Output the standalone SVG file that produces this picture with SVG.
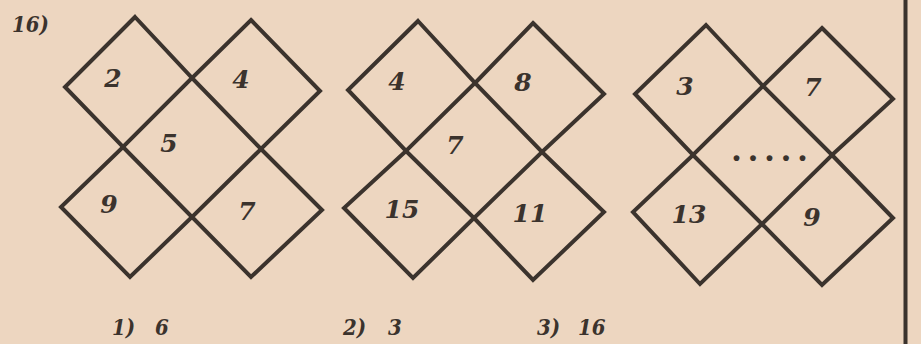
<svg xmlns="http://www.w3.org/2000/svg" width="921" height="344" viewBox="0 0 921 344">
<style>
.bg{fill:#edd6c0}
.d{fill:none;stroke:#3b332d;stroke-width:4;stroke-linejoin:miter}
.t{font-family:"DejaVu Serif","Liberation Serif",serif;font-weight:bold;font-style:italic;fill:#3b332d;font-size:25px;text-anchor:middle}
.s{font-family:"DejaVu Serif Condensed","DejaVu Serif","Liberation Serif",serif;font-weight:bold;font-style:italic;fill:#3b332d;font-size:22px}
</style>
<rect class="bg" x="0" y="0" width="921" height="344"/>
<line x1="905.5" y1="0" x2="905.5" y2="344" stroke="#3b332d" stroke-width="4"/>
<text class="s" x="12" y="32">16)</text>
<g id="figure1">
<polygon class="d" points="135,17 192,78 123,147 65,87"/>
<polygon class="d" points="251,20 320,91 261,149 192,78"/>
<polygon class="d" points="123,147 192,217 130,277 61,207"/>
<polygon class="d" points="261,149 322,210 251,277 192,217"/>
<text class="t" x="113" y="87">2</text>
<text class="t" x="241" y="88">4</text>
<text class="t" x="169" y="152">5</text>
<text class="t" x="109" y="213">9</text>
<text class="t" x="247" y="220">7</text>
</g>
<g id="figure2">
<polygon class="d" points="418,21 475,83 406,151 348,90"/>
<polygon class="d" points="533,23 604,94 542,152 475,83"/>
<polygon class="d" points="406,151 474,218 413,278 344,208"/>
<polygon class="d" points="542,152 604,212 533,280 474,218"/>
<text class="t" x="397" y="90">4</text>
<text class="t" x="523" y="91">8</text>
<text class="t" x="455" y="154">7</text>
<text class="t" x="402" y="218">15</text>
<text class="t" x="530" y="222">11</text>
</g>
<g id="figure3">
<polygon class="d" points="706,25 763,86 693,155 635,94"/>
<polygon class="d" points="822,28 893,99 832,155 763,86"/>
<polygon class="d" points="693,155 762,224 700,284 633,212"/>
<polygon class="d" points="832,155 893,218 822,285 762,224"/>
<text class="t" x="685" y="95">3</text>
<text class="t" x="813" y="96">7</text>
<text class="t" x="689" y="223">13</text>
<text class="t" x="812" y="226">9</text>
<text x="732" y="161" style="font-family:'Liberation Serif',serif;font-weight:bold;font-size:36px;fill:#3b332d;letter-spacing:7.5px">.....</text>
</g>
<g id="answers">
<text class="s" y="335"><tspan x="112">1)</tspan><tspan x="155">6</tspan></text>
<text class="s" y="335"><tspan x="343">2)</tspan><tspan x="388">3</tspan></text>
<text class="s" y="335"><tspan x="537">3)</tspan><tspan x="578">16</tspan></text>
</g>
</svg>
